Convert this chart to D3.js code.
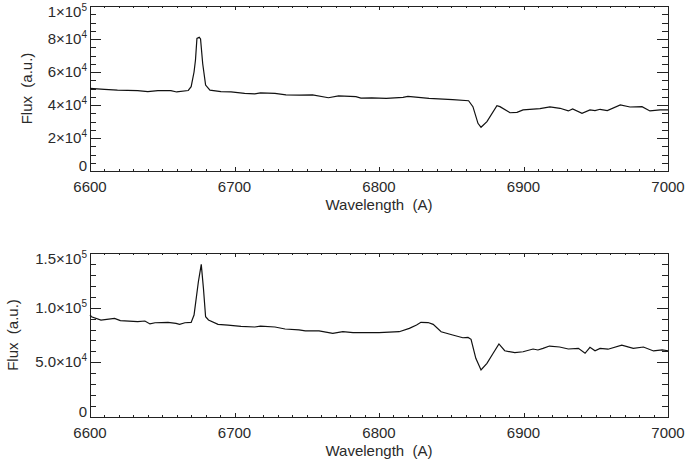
<!DOCTYPE html>
<html lang="en">
<head>
<meta charset="utf-8">
<script src="https://cdn.jsdelivr.net/npm/d3@7/dist/d3.min.js"></script>
<style type="text/css">
body { margin: 0; background: #fff; }
svg text { font-family: "Liberation Sans", Arial, sans-serif; font-size: 15px; fill: #2a2a2a; white-space: pre; }
.axis path, .axis line { stroke: #222; stroke-width: 1; shape-rendering: crispEdges; }
</style>
</head>
<body>
<script type="text/javascript">

// wavelength range shared by both panels
var xTicks = [6600, 6700, 6800, 6900, 7000];
var xLabels = ["6600", "6700", "6800", "6900", "7000"];

// top spectrum
var wave1 = [6600, 6610, 6619, 6633, 6640, 6647, 6656, 6660, 6668, 6670, 6672, 6673, 6674, 6675.6, 6676.5,
	6678, 6680, 6683, 6690.6, 6697.6, 6707, 6714, 6718, 6728, 6735.6, 6745, 6754, 6765, 6772, 6784, 6787.5,
	6795, 6805, 6816.6, 6820, 6834.6, 6851, 6862, 6865, 6868.5, 6870.6, 6874.7, 6881.6, 6883.7, 6890.7,
	6895.5, 6899.7, 6911.4, 6918.3, 6925.3, 6931, 6934, 6940.5, 6946, 6949.5, 6953, 6958, 6967, 6973.7,
	6982, 6987.5, 6994.5, 7000];
var flux1 = [50100, 49500, 49000, 48700, 48100, 48700, 48700, 47900, 48800, 51100, 60000, 67300, 80400, 81000, 80000,
	65000, 52100, 49000, 48100, 47900, 47100, 46700, 47300, 47100, 46100, 46000, 46100, 44400, 45500, 45100, 44200,
	44300, 44000, 44600, 45200, 44000, 43200, 42600, 39000, 28900, 26500, 29900, 39600, 39000, 35300,
	35500, 37000, 37800, 38800, 38000, 36400, 37600, 35000, 37000, 36600, 37400, 36600, 40000, 38800,
	39000, 36400, 37000, 37000];
var yTicks1 = [0, 20000, 40000, 60000, 80000, 100000];
var yLabels1 = ["0", "2×10^4", "4×10^4", "6×10^4", "8×10^4", "1×10^5"];

// bottom spectrum
var wave2 = [6600, 6601, 6607.6, 6617, 6621, 6633, 6638, 6641.5, 6645, 6654, 6659.5, 6662, 6665.7, 6670, 6672,
	6675, 6677, 6678.5, 6680, 6682, 6688.6, 6695.5, 6704.5, 6714, 6718, 6728, 6735, 6744.6, 6749, 6758.5,
	6768, 6775, 6782, 6800, 6814, 6821, 6826, 6829, 6834, 6837.5, 6843, 6851, 6858, 6861.6, 6863.7, 6867,
	6870.6, 6874.7, 6879, 6883, 6887, 6894, 6899.7, 6906.6, 6910, 6913.5, 6918, 6925, 6931, 6938, 6942.6,
	6946, 6949.5, 6953, 6958.5, 6968, 6976, 6983, 6990, 6996, 7000];
var flux2 = [93300, 91700, 88700, 90200, 88100, 87200, 87800, 85100, 86200, 86500, 85700, 84800, 86200, 86500, 93300,
	123700, 139600, 117700, 91700, 88700, 84800, 84100, 82900, 82300, 83200, 82300, 80500, 79600, 78700, 78700,
	76500, 78000, 77100, 77100, 78000, 81100, 84100, 86600, 86400, 84700, 78000, 75000, 72500, 72800, 71100, 53700,
	43000, 49100, 58300, 66800, 60600, 58800, 59700, 62200, 61300, 62800, 64900, 64000, 62200, 62800, 58300,
	63700, 60600, 62800, 62000, 65800, 62800, 64000, 60400, 61300, 60600];
var yTicks2 = [0, 50000, 100000, 150000];
var yLabels2 = ["0", "5.0×10^4", "1.0×10^5", "1.5×10^5"];

var width = 686, height = 466;
var left = 90, right = 668;

var svg = d3.select("body").append("svg")
	.attr("width", width)
	.attr("height", height);

var x = d3.scaleLinear().domain([6600, 7000]).range([left, right]);

function label(sel, str) {
	// "a^b" -> a with superscript b
	var parts = str.split("^");
	sel.append("tspan").text(parts[0]);
	if (parts.length > 1) {
		sel.append("tspan").attr("dy", "-6").style("font-size", "10px").text(parts[1]);
	}
}

function drawPanel(wave, flux, yMax, yTicks, yLabels, yMinor, top, bottom, ylabX) {
	var y = d3.scaleLinear().domain([0, yMax]).range([bottom, top]);
	var g = svg.append("g");

	// x axes, ticks pointing in
	g.append("g").attr("class", "axis").attr("transform", "translate(0," + bottom + ")")
		.call(d3.axisBottom(x).tickValues(d3.range(6600, 7001, 10)).tickSize(-2).tickSizeOuter(0).tickFormat(""));
	g.append("g").attr("class", "axis").attr("transform", "translate(0," + bottom + ")")
		.call(d3.axisBottom(x).tickValues(xTicks).tickSize(-4).tickSizeOuter(0).tickFormat(""));
	g.append("g").attr("class", "axis").attr("transform", "translate(0," + top + ")")
		.call(d3.axisTop(x).tickValues(d3.range(6600, 7001, 10)).tickSize(-2).tickSizeOuter(0).tickFormat(""));
	g.append("g").attr("class", "axis").attr("transform", "translate(0," + top + ")")
		.call(d3.axisTop(x).tickValues(xTicks).tickSize(-4).tickSizeOuter(0).tickFormat(""));

	// y axes
	var minors = d3.range(0, yMax + 1, yMinor);
	g.append("g").attr("class", "axis").attr("transform", "translate(" + left + ",0)")
		.call(d3.axisLeft(y).tickValues(minors).tickSize(-6).tickSizeOuter(0).tickFormat(""));
	g.append("g").attr("class", "axis").attr("transform", "translate(" + left + ",0)")
		.call(d3.axisLeft(y).tickValues(yTicks).tickSize(-11).tickSizeOuter(0).tickFormat(""));
	g.append("g").attr("class", "axis").attr("transform", "translate(" + right + ",0)")
		.call(d3.axisRight(y).tickValues(minors).tickSize(-6).tickSizeOuter(0).tickFormat(""));
	g.append("g").attr("class", "axis").attr("transform", "translate(" + right + ",0)")
		.call(d3.axisRight(y).tickValues(yTicks).tickSize(-11).tickSizeOuter(0).tickFormat(""));

	// x tick labels
	g.selectAll(".xl").data(xTicks).enter().append("text")
		.attr("x", function(d) { return x(d); })
		.attr("y", bottom + 21)
		.attr("text-anchor", "middle")
		.text(function(d, i) { return xLabels[i]; });

	g.append("text")
		.attr("x", (left + right) / 2)
		.attr("y", bottom + 39)
		.attr("text-anchor", "middle")
		.text("Wavelength  (A)");

	// y tick labels, end ones nudged inward like the original
	g.selectAll(".yl").data(yTicks).enter().append("text")
		.attr("x", 87)
		.attr("y", function(d, i) {
			var off = 5;
			if (i == 0) off = 0;
			if (i == yTicks.length - 1) off = 11;
			return y(d) + off;
		})
		.attr("text-anchor", "end")
		.each(function(d, i) { label(d3.select(this), yLabels[i]); });

	g.append("text")
		.attr("transform", "translate(" + ylabX + "," + ((top + bottom) / 2) + ") rotate(-90)")
		.attr("text-anchor", "middle")
		.attr("dy", "0.35em")
		.text("Flux  (a.u.)");

	// spectrum
	var pts = wave.map(function(w, i) { return [w, flux[i]]; });
	g.append("path")
		.datum(pts)
		.attr("d", d3.line().x(function(d) { return x(d[0]); }).y(function(d) { return y(d[1]); }))
		.style("fill", "none")
		.style("stroke", "#111")
		.style("stroke-width", 1.2);
}

drawPanel(wave1, flux1, 100000, yTicks1, yLabels1, 5000, 6, 171, 27);
drawPanel(wave2, flux2, 150000, yTicks2, yLabels2, 10000, 253, 417, 13);

</script>
</body>
</html>
